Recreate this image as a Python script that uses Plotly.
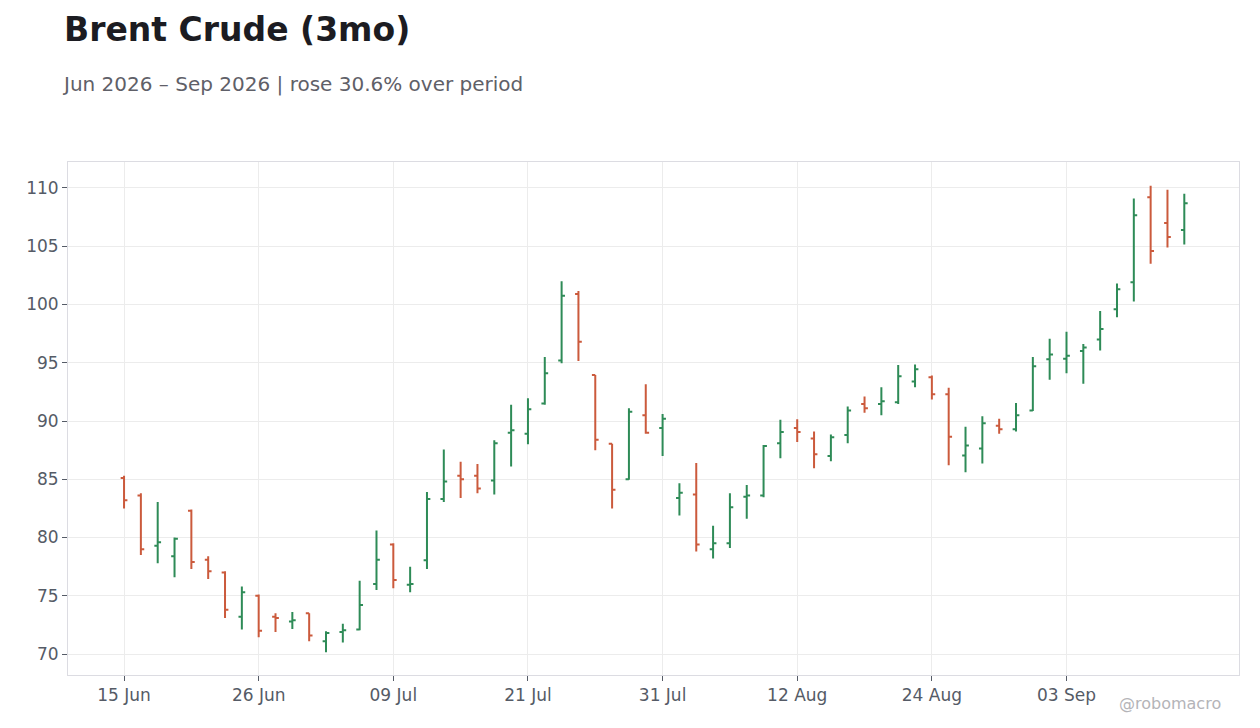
import plotly.graph_objects as go

# daily OHLC (Brent, Jun - Sep 2026)
open_ = [85.1, 83.6, 79.3, 78.4, 82.3, 78.1, 77.0, 73.2, 75.0, 73.2,
         72.8, 73.5, 71.1, 71.9, 72.1, 76.0, 79.4, 75.95, 78.05, 83.3,
         85.3, 85.3, 84.9, 89.0, 88.9, 91.5, 95.2, 100.9, 93.95, 88.05,
         85.0, 90.5, 89.4, 83.4, 83.7, 79.0, 79.5, 83.5, 83.6, 88.1,
         89.4, 88.5, 87.0, 88.8, 91.45, 91.45, 91.6, 93.4, 93.75, 92.3,
         87.05, 87.65, 89.6, 89.3, 90.9, 95.3, 95.35, 96.0, 97.0, 99.6,
         101.9, 109.2, 107.0, 106.4]
high = [85.3, 83.8, 83.05, 80.0, 82.4, 78.4, 77.1, 75.8, 75.1, 73.5,
        73.6, 73.5, 71.95, 72.6, 76.3, 80.6, 79.5, 77.5, 83.9, 87.55,
        86.5, 86.3, 88.35, 91.4, 91.95, 95.5, 102.0, 101.15, 93.95, 88.05,
        91.1, 93.15, 90.6, 84.65, 86.4, 81.0, 83.8, 84.5, 87.95, 90.1,
        90.15, 89.1, 88.85, 91.25, 92.1, 92.9, 94.8, 94.85, 93.9, 92.85,
        89.5, 90.4, 90.2, 91.55, 95.5, 97.05, 97.65, 96.6, 99.45, 101.8,
        109.1, 110.2, 109.85, 109.5]
low = [82.5, 78.5, 77.8, 76.6, 77.3, 76.45, 73.1, 72.1, 71.45, 71.9,
       72.15, 71.1, 70.15, 71.0, 72.05, 75.5, 75.65, 75.3, 77.3, 83.05,
       83.4, 83.8, 83.7, 86.1, 88.0, 91.4, 94.95, 95.15, 87.5, 82.5,
       84.95, 88.9, 87.0, 81.9, 78.8, 78.2, 79.1, 81.6, 83.45, 86.8,
       88.2, 85.95, 86.55, 88.1, 90.7, 90.5, 91.45, 92.9, 91.85, 86.2,
       85.6, 86.35, 88.9, 89.1, 90.85, 93.55, 94.1, 93.2, 96.05, 98.9,
       100.25, 103.5, 104.9, 105.15]
close = [83.2, 79.0, 79.6, 79.9, 77.9, 77.1, 73.8, 75.3, 72.0, 73.1,
         72.9, 71.6, 71.8, 72.05, 74.2, 78.1, 76.35, 76.0, 83.3, 84.8,
         85.0, 84.2, 88.1, 89.2, 91.0, 94.1, 100.75, 96.8, 88.4, 84.1,
         90.8, 89.0, 90.2, 83.85, 79.4, 79.5, 82.6, 83.6, 87.85, 89.05,
         89.05, 87.15, 88.6, 90.9, 91.1, 91.7, 93.85, 94.45, 92.3, 88.65,
         87.9, 89.8, 89.3, 90.5, 94.7, 95.7, 95.6, 96.3, 97.9, 101.3,
         107.65, 104.6, 105.8, 108.7]

tick_labels = ["15 Jun", "26 Jun", "09 Jul", "21 Jul", "31 Jul", "12 Aug", "24 Aug", "03 Sep"]

x = list(range(len(close)))
font = "DejaVu Sans"
GREEN = "#2e8b57"
RED = "#cb5a3c"

fig = go.Figure(go.Ohlc(
    x=x, open=open_, high=high, low=low, close=close,
    increasing=dict(line=dict(color=GREEN, width=2)),
    decreasing=dict(line=dict(color=RED, width=2)),
    tickwidth=0.2, showlegend=False, hoverinfo="skip",
))

fig.update_layout(
    width=1252, height=720,
    margin=dict(l=60, r=21, t=154, b=53),
    paper_bgcolor="white", plot_bgcolor="white",
    font=dict(family=font, size=17, color="#555b66"),
    xaxis=dict(
        range=[-3.33, 66.25], rangeslider=dict(visible=False),
        tickvals=x[::8], ticktext=tick_labels,
        showgrid=True, gridcolor="#ececec", gridwidth=1,
        showline=True, linecolor="#dcdce2", mirror=True,
        ticks="outside", ticklen=5, tickcolor="#555b66",
        tickfont=dict(size=17), zeroline=False,
    ),
    yaxis=dict(
        range=[68.2, 112.23], tickvals=list(range(70, 111, 5)),
        showgrid=True, gridcolor="#ececec", gridwidth=1,
        showline=True, linecolor="#dcdce2", mirror=True,
        ticks="outside", ticklen=5, tickcolor="#555b66",
        tickfont=dict(size=17), zeroline=False,
    ),
    annotations=[
        dict(text="<b>Brent Crude (3mo)</b>", xref="paper", yref="paper",
             x=-0.0051, y=1.258, xanchor="left", yanchor="middle", showarrow=False,
             font=dict(family=font, size=33, color="#1c1c22")),
        dict(text="Jun 2026 – Sep 2026 | rose 30.6% over period", xref="paper", yref="paper",
             x=-0.0069, y=1.152, xanchor="left", yanchor="middle", showarrow=False,
             font=dict(family=font, size=20, color="#5f6068")),
        dict(text="@robomacro", xref="paper", yref="paper",
             x=0.941, y=-0.0565, xanchor="center", yanchor="middle", showarrow=False,
             font=dict(family=font, size=16, color="#b4b4b8")),
    ],
)

fig.write_html("out.html")
